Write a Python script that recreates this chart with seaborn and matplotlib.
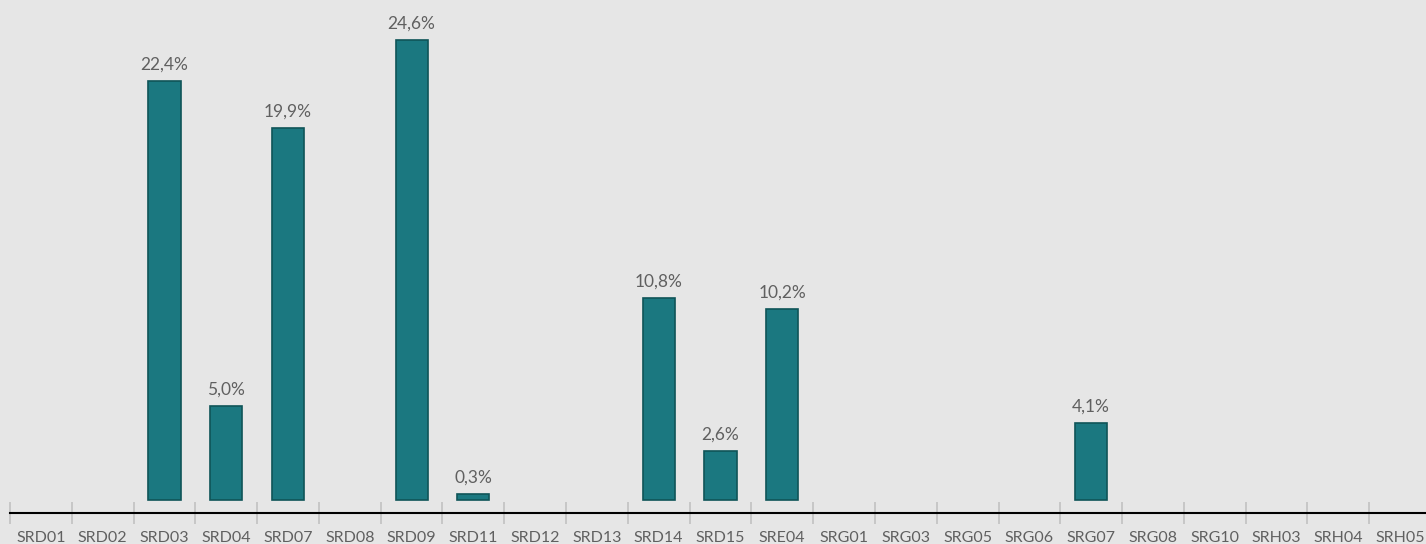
import matplotlib
matplotlib.use("Agg")
import matplotlib.pyplot as plt
import seaborn as sns
import pandas as pd
from matplotlib.ticker import FixedLocator

# data
categories = ["SRD01", "SRD02", "SRD03", "SRD04", "SRD07", "SRD08", "SRD09", "SRD11",
              "SRD12", "SRD13", "SRD14", "SRD15", "SRE04", "SRG01", "SRG03", "SRG05",
              "SRG06", "SRG07", "SRG08", "SRG10", "SRH03", "SRH04", "SRH05"]
values = [0, 0, 22.4, 5.0, 19.9, 0, 24.6, 0.3,
          0, 0, 10.8, 2.6, 10.2, 0, 0, 0,
          0, 4.1, 0, 0, 0, 0, 0]

BG = "#E6E6E6"
BAR = "#1B7880"
EDGE = "#0F5458"
TXT = "#606060"

sns.set_theme(style="white")
plt.rcParams["font.family"] = ["Lato", "DejaVu Sans"]

df = pd.DataFrame({"cat": categories, "val": values})

fig = plt.figure(figsize=(14.26, 5.44), dpi=100, facecolor=BG)
ax = fig.add_axes([10 / 1426, 31 / 544, 1421 / 1426, 513 / 544])
ax.set_facecolor(BG)

sns.barplot(data=df, x="cat", y="val", order=categories, color=BAR,
            width=0.52, edgecolor=EDGE, linewidth=1.2, saturation=1, ax=ax)

# hide the zero-height bars so no edge line shows at the baseline
for p, v in zip(ax.patches, values):
    if v == 0:
        p.set_visible(False)

labels = [f"{v:.1f}%".replace(".", ",") if v > 0 else "" for v in values]
ax.bar_label(ax.containers[0], labels=labels, padding=6, fontsize=12.5, color=TXT)

ax.set_xlim(-0.5, 22.5)
ax.set_ylim(-0.7, 26.74)

for s in ["top", "right", "left"]:
    ax.spines[s].set_visible(False)
ax.spines["bottom"].set_color("black")
ax.spines["bottom"].set_linewidth(1.5)

ax.set_yticks([])
ax.set_xlabel("")
ax.set_ylabel("")
ax.tick_params(axis="x", which="major", bottom=False, length=0, pad=13, labelsize=11.5, labelcolor=TXT)
ax.xaxis.set_minor_locator(FixedLocator([i - 0.5 for i in range(len(categories) + 1)]))
ax.tick_params(axis="x", which="minor", bottom=True, direction="inout", length=16, width=1.3, color="#C4C4C4")

fig.savefig("out.png", dpi=100, facecolor=BG)
